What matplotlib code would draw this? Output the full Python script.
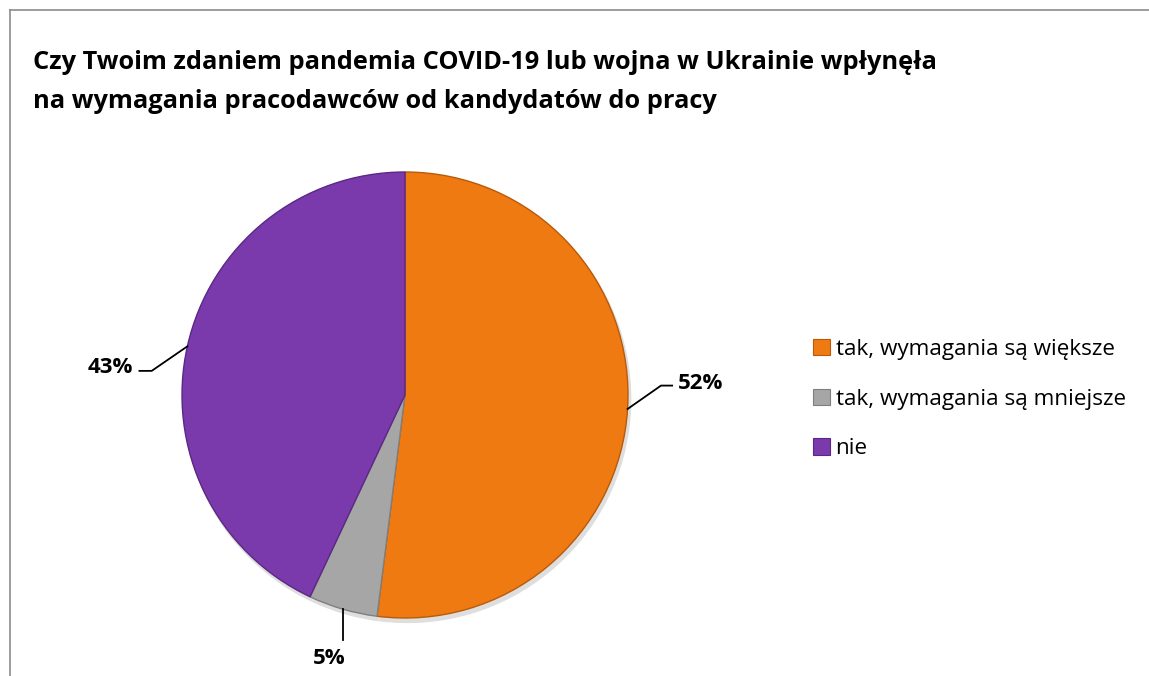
import matplotlib.pyplot as plt
import numpy as np
from matplotlib.patches import Patch
from matplotlib.lines import Line2D

plt.rcParams['font.family'] = ['Open Sans', 'DejaVu Sans']

# data
categories = ['tak, wymagania są większe', 'tak, wymagania są mniejsze', 'nie']
shares = [52, 5, 43]
pct_labels = ['52%', '5%', '43%']
colors = ['#F07A12', '#A6A6A6', '#7B3AAC']
edge_colors = ['#B85A0A', '#7F7F7F', '#5A2884']
title = ('Czy Twoim zdaniem pandemia COVID-19 lub wojna w Ukrainie wpłynęła\n'
         'na wymagania pracodawców od kandydatów do pracy')

W, H = 1149, 676
fig = plt.figure(figsize=(W / 100, H / 100), dpi=100)

# pie centre and radius in pixels
cx, cy, r = 405, 395, 223
half = 260
ax = fig.add_axes([(cx - half) / W, (H - cy - half) / H, 2 * half / W, 2 * half / H])

# soft shadow
ax.pie(shares, radius=1.005, center=(0.01, -0.018), startangle=90, counterclock=False,
       colors=['#dedede'] * 3, wedgeprops=dict(linewidth=0))
wedges, _ = ax.pie(shares, radius=1.0, startangle=90, counterclock=False, colors=colors,
                   wedgeprops=dict(linewidth=1.0))
for w, ec in zip(wedges, edge_colors):
    w.set_edgecolor(ec)

lim = half / r
ax.set_xlim(-lim, lim)
ax.set_ylim(-lim, lim)
ax.set_aspect('equal')
ax.axis('off')

# leader lines and percentage labels
def edge_pt(angle):
    a = np.deg2rad(angle)
    return np.cos(a), np.sin(a)

mid = [(w.theta1 + w.theta2) / 2 for w in wedges]

# 52%
x0, y0 = edge_pt(mid[0])
ax.plot([x0, x0 + 0.15, x0 + 0.2], [y0, y0 + 0.105, y0 + 0.105], color='black', lw=1.3, clip_on=False)
ax.text(x0 + 0.225, y0 + 0.115, pct_labels[0], ha='left', va='center', fontsize=16,
        fontweight='bold', clip_on=False)
# 5%
x0, y0 = edge_pt(mid[1])
ax.plot([x0, x0], [y0, y0 - 0.14], color='black', lw=1.3, clip_on=False)
ax.text(x0 - 0.06, y0 - 0.22, pct_labels[1], ha='center', va='center', fontsize=16,
        fontweight='bold', clip_on=False)
# 43%
x0, y0 = edge_pt(mid[2])
ax.plot([x0, x0 - 0.16, x0 - 0.215], [y0, y0 - 0.11, y0 - 0.11], color='black', lw=1.3, clip_on=False)
ax.text(x0 - 0.245, y0 - 0.095, pct_labels[2], ha='right', va='center', fontsize=16,
        fontweight='bold', clip_on=False)

fig.text(33 / W, 1 - 82 / H, title, ha='left', va='center', fontsize=18.3, fontweight='bold',
         linespacing=1.72)

handles = [Patch(facecolor=c, edgecolor=ec, linewidth=0.8) for c, ec in zip(colors, edge_colors)]
fig.legend(handles, categories, loc='upper left', bbox_to_anchor=(813 / W, 1 - 339 / H),
           frameon=False, fontsize=16.2, handlelength=0.75, handleheight=0.75, handletextpad=0.25,
           labelspacing=1.27, borderaxespad=0, borderpad=0)

# outer border (top and left visible)
fig.add_artist(Line2D([10 / W, 1], [1 - 10 / H, 1 - 10 / H], color='#8c8c8c', lw=1.2))
fig.add_artist(Line2D([10 / W, 10 / W], [1 - 10 / H, 0], color='#8c8c8c', lw=1.2))

fig.savefig('out.png', dpi=100)
